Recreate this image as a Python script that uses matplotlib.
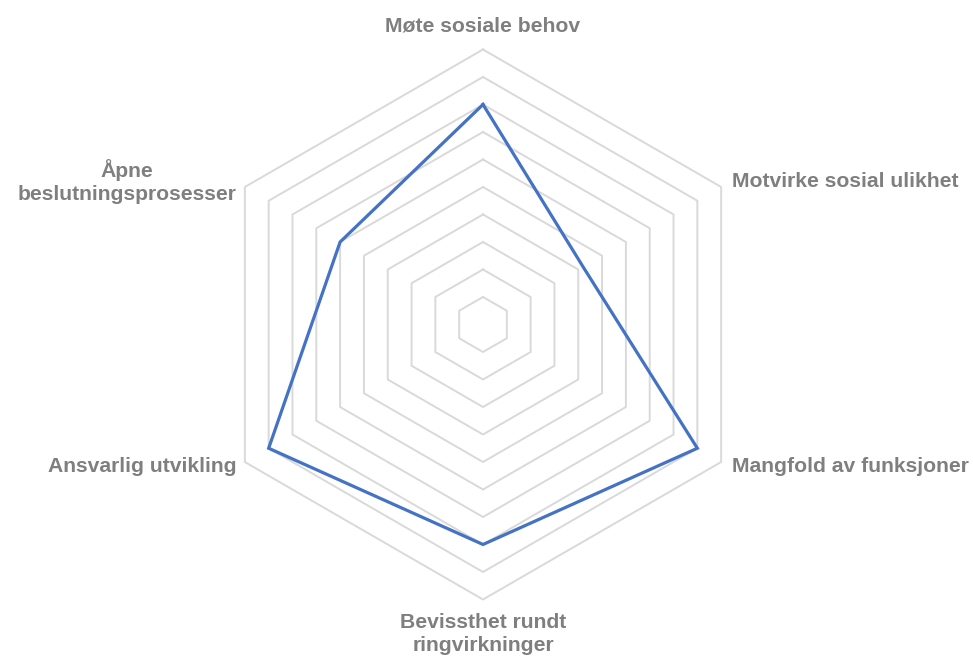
import numpy as np
import matplotlib.pyplot as plt

categories = ['Møte sosiale behov', 'Motvirke sosial ulikhet', 'Mangfold av funksjoner',
              'Bevissthet rundt\nringvirkninger', 'Ansvarlig utvikling',
              'Åpne\nbeslutningsprosesser']
values = [8, 4.2, 9, 8, 9, 6]
ring_levels = list(range(1, 11))

plt.rcParams['font.family'] = ['Liberation Sans', 'DejaVu Sans']

n = len(categories)
angles = np.pi / 2 - np.arange(n) * 2 * np.pi / n

fig = plt.figure(figsize=(9.73, 6.59), dpi=100)
ax = fig.add_axes([0, 0, 1, 1])
scale = 27.5
ax.set_xlim(-483 / scale, (973 - 483) / scale)
ax.set_ylim(-334.5 / scale, 324.5 / scale)
ax.set_aspect('equal')
ax.axis('off')

# hexagon grid
for r in ring_levels:
    xs = r * np.cos(np.append(angles, angles[0]))
    ys = r * np.sin(np.append(angles, angles[0]))
    ax.plot(xs, ys, color='#d9d9d9', lw=1.4, zorder=1)

# data line
vx = np.array(values) * np.cos(angles)
vy = np.array(values) * np.sin(angles)
ax.plot(np.append(vx, vx[0]), np.append(vy, vy[0]), color='#4472c4', lw=2.3,
        solid_joinstyle='miter', zorder=3)

# labels
rmax = ring_levels[-1]
lab_style = dict(fontsize=15.2, fontweight='bold', color='#7f7f7f', linespacing=1.22)
for i, (lab, a) in enumerate(zip(categories, angles)):
    x = rmax * np.cos(a)
    y = rmax * np.sin(a)
    c, s = np.cos(a), np.sin(a)
    dy = 0.2 if s > 0 else -0.15
    if abs(c) < 1e-6:
        if s > 0:
            ax.text(x, y + 0.5, lab, ha='center', va='bottom', **lab_style)
        else:
            ax.text(x, y - 0.5, lab, ha='center', va='top', multialignment='center', **lab_style)
    elif c > 0:
        ax.text(x + 0.4, y + dy, lab, ha='left', va='center', **lab_style)
    else:
        ax.text(x - 0.3, y + dy, lab, ha='right', va='center', multialignment='center', **lab_style)

fig.savefig('out.png', dpi=100)
